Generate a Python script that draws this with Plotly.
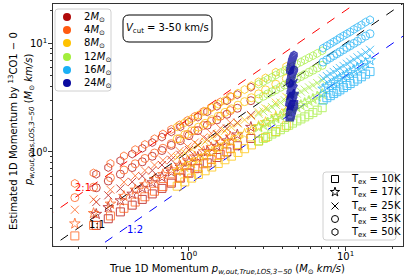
import numpy as np
import plotly.graph_objects as go

# ---------------- data ----------------
masses = ["2", "4", "8", "12", "16", "24"]
tex_labels = ["10K", "17K", "25K", "35K", "50K"]

# 2 Msun
x_m2 = [0.26, 0.31, 0.37, 0.44, 0.51, 0.59, 0.68, 0.78, 0.89, 1.01, 1.15, 1.32, 1.52, 1.76, 2.05, 2.5]
y_m2_10K = [0.211, 0.243, 0.281, 0.324, 0.366, 0.411, 0.462, 0.516, 0.574, 0.637, 0.708, 0.793, 0.889, 1.00, 1.14, 1.33]
y_m2_17K = [0.268, 0.309, 0.357, 0.411, 0.465, 0.523, 0.587, 0.656, 0.729, 0.809, 0.899, 1.01, 1.13, 1.27, 1.44, 1.69]
y_m2_25K = [0.346, 0.399, 0.461, 0.531, 0.600, 0.675, 0.759, 0.847, 0.942, 1.04, 1.16, 1.30, 1.46, 1.64, 1.86, 2.19]
y_m2_35K = [0.468, 0.540, 0.624, 0.718, 0.811, 0.912, 1.03, 1.15, 1.27, 1.41, 1.57, 1.76, 1.97, 2.22, 2.52, 2.96]
y_m2_50K = [0.624, 0.719, 0.832, 0.957, 1.08, 1.22, 1.37, 1.53, 1.70, 1.88, 2.09, 2.34, 2.63, 2.96, 3.36, 3.94]

# 4 Msun
x_m4 = [0.19, 0.25, 0.32, 0.39, 0.46, 0.53, 0.61, 0.69, 0.78, 0.88, 0.99, 1.1, 1.25, 1.4, 1.6, 1.85]
y_m4_10K = [0.169, 0.211, 0.258, 0.303, 0.346, 0.387, 0.435, 0.481, 0.531, 0.585, 0.644, 0.700, 0.778, 0.851, 0.948, 1.07]
y_m4_17K = [0.219, 0.273, 0.333, 0.392, 0.448, 0.501, 0.562, 0.622, 0.687, 0.757, 0.834, 0.906, 1.01, 1.10, 1.23, 1.38]
y_m4_25K = [0.294, 0.367, 0.449, 0.527, 0.603, 0.675, 0.757, 0.838, 0.925, 1.02, 1.12, 1.22, 1.36, 1.48, 1.65, 1.86]
y_m4_35K = [0.380, 0.474, 0.579, 0.681, 0.778, 0.871, 0.977, 1.08, 1.19, 1.32, 1.45, 1.57, 1.75, 1.91, 2.13, 2.40]
y_m4_50K = [0.513, 0.640, 0.782, 0.918, 1.05, 1.17, 1.32, 1.46, 1.61, 1.77, 1.95, 2.12, 2.36, 2.58, 2.88, 3.24]

# 8 Msun
x_m8 = [0.85, 0.95, 1.05, 1.16, 1.28, 1.41, 1.55, 1.71, 1.88, 2.07, 2.28, 2.52, 2.8, 3.1, 3.6, 4.2]
y_m8_10K = [0.484, 0.530, 0.574, 0.621, 0.671, 0.726, 0.783, 0.847, 0.914, 0.989, 1.07, 1.16, 1.26, 1.36, 1.54, 1.74]
y_m8_17K = [0.664, 0.726, 0.787, 0.851, 0.920, 0.995, 1.07, 1.16, 1.25, 1.36, 1.46, 1.58, 1.72, 1.87, 2.11, 2.38]
y_m8_25K = [0.893, 0.977, 1.06, 1.15, 1.24, 1.34, 1.45, 1.56, 1.69, 1.82, 1.97, 2.13, 2.32, 2.52, 2.84, 3.21]
y_m8_35K = [1.32, 1.44, 1.56, 1.69, 1.83, 1.98, 2.13, 2.31, 2.49, 2.69, 2.90, 3.15, 3.42, 3.72, 4.19, 4.73]
y_m8_50K = [1.70, 1.86, 2.01, 2.18, 2.36, 2.55, 2.75, 2.97, 3.21, 3.47, 3.74, 4.06, 4.41, 4.79, 5.40, 6.10]

# 12 Msun
x_m12 = [2.8, 3.0, 3.2, 3.4, 3.6, 3.85, 4.1, 4.35, 4.6, 4.9, 5.2, 5.5, 5.85, 6.2, 6.6, 7.1]
y_m12_10K = [1.26, 1.33, 1.39, 1.46, 1.52, 1.60, 1.68, 1.76, 1.84, 1.93, 2.01, 2.10, 2.20, 2.30, 2.42, 2.55]
y_m12_17K = [1.68, 1.77, 1.86, 1.95, 2.03, 2.14, 2.24, 2.34, 2.45, 2.57, 2.69, 2.81, 2.94, 3.07, 3.22, 3.40]
y_m12_25K = [2.24, 2.36, 2.48, 2.59, 2.71, 2.85, 2.99, 3.13, 3.27, 3.43, 3.58, 3.74, 3.92, 4.09, 4.30, 4.54]
y_m12_35K = [3.08, 3.25, 3.41, 3.57, 3.73, 3.93, 4.12, 4.31, 4.50, 4.72, 4.93, 5.15, 5.40, 5.64, 5.92, 6.25]
y_m12_50K = [4.20, 4.43, 4.65, 4.86, 5.08, 5.35, 5.61, 5.86, 6.12, 6.43, 6.71, 7.01, 7.35, 7.67, 8.05, 8.51]

# 16 Msun
x_m16 = [7.2, 7.6, 8.0, 8.4, 8.8, 9.2, 9.7, 10.2, 10.7, 11.3, 11.9, 12.6, 13.4, 14.3]
y_m16_10K = [3.00, 3.15, 3.29, 3.44, 3.58, 3.72, 3.90, 4.08, 4.25, 4.46, 4.68, 4.91, 5.19, 5.48]
y_m16_17K = [3.80, 3.99, 4.17, 4.36, 4.54, 4.72, 4.94, 5.18, 5.38, 5.65, 5.93, 6.22, 6.58, 6.95]
y_m16_25K = [4.75, 4.99, 5.21, 5.44, 5.68, 5.90, 6.18, 6.47, 6.73, 7.06, 7.41, 7.78, 8.22, 8.69]
y_m16_35K = [6.70, 7.03, 7.35, 7.67, 8.00, 8.32, 8.71, 9.12, 9.48, 9.95, 10.4, 11.0, 11.6, 12.2]
y_m16_50K = [9.00, 9.44, 9.86, 10.3, 10.7, 11.2, 11.7, 12.2, 12.7, 13.4, 14.0, 14.7, 15.6, 16.4]

# 24 Msun (a tight, nearly vertical column)
x_m24 = [4.42, 4.44, 4.46, 4.48, 4.50, 4.52, 4.54, 4.56, 4.59, 4.62, 4.66, 4.70]
y_m24_10K = [2.08, 2.14, 2.20, 2.26, 2.32, 2.38, 2.44, 2.50, 2.56, 2.62, 2.68, 2.74]
y_m24_17K = [2.62, 2.69, 2.76, 2.83, 2.90, 2.97, 3.04, 3.11, 3.18, 3.25, 3.32, 3.40]
y_m24_25K = [3.25, 3.35, 3.45, 3.55, 3.65, 3.75, 3.85, 3.95, 4.05, 4.15, 4.25, 4.35]
y_m24_35K = [4.25, 4.38, 4.51, 4.64, 4.77, 4.90, 5.03, 5.16, 5.29, 5.42, 5.55, 5.70]
y_m24_50K = [5.55, 5.75, 5.95, 6.15, 6.35, 6.55, 6.75, 6.95, 7.15, 7.35, 7.55, 7.80]

# reference-line span
line_x = [0.1, 30.0]
ratio_lines = [2.0, 1.0, 0.5]
ratio_text = ["2:1", "1:1", "1:2"]

# axis ticks
major_ticks = [1, 10]
major_tick_text = ["10<sup>0</sup>", "10<sup>1</sup>"]
minor_ticks = [0.2, 0.3, 0.4, 0.5, 0.6, 0.7, 0.8, 0.9, 2, 3, 4, 5, 6, 7, 8, 9, 20]

# ---------------- styling ----------------
colors = ["#b00a0a", "#ff5a10", "#ffc200", "#a3ee3c", "#1ab0f5", "#0a0aa0"]
symbols = ["square-open", "star-open", "x-thin-open", "circle-open", "hexagon-open"]
line_colors = ["red", "black", "blue"]
FONT = "DejaVu Sans"

# plot-area pixel frame (used for the overlay axes holding legends / boxes)
PL, PR, PT, PB = 53, 403, 4, 246
W, H = 407, 279

def paper_x(px):
    return (px - PL) / (PR - PL)

def paper_y(py):
    return (PB - py) / (PB - PT)

xs = [x_m2, x_m4, x_m8, x_m12, x_m16, x_m24]
ys = [
    [y_m2_10K, y_m2_17K, y_m2_25K, y_m2_35K, y_m2_50K],
    [y_m4_10K, y_m4_17K, y_m4_25K, y_m4_35K, y_m4_50K],
    [y_m8_10K, y_m8_17K, y_m8_25K, y_m8_35K, y_m8_50K],
    [y_m12_10K, y_m12_17K, y_m12_25K, y_m12_35K, y_m12_50K],
    [y_m16_10K, y_m16_17K, y_m16_25K, y_m16_35K, y_m16_50K],
    [y_m24_10K, y_m24_17K, y_m24_25K, y_m24_35K, y_m24_50K],
]

fig = go.Figure()

# reference lines
for r, lc in zip(ratio_lines, line_colors):
    fig.add_trace(go.Scatter(
        x=line_x, y=[v * r for v in line_x], mode="lines",
        line=dict(color=lc, width=1, dash="dash"), showlegend=False, hoverinfo="skip"))

# data points
for mi in range(len(masses)):
    lw = 1.5 if masses[mi] == "24" else 1
    sz = 7 if masses[mi] == "24" else 8
    for ti in range(len(tex_labels)):
        fig.add_trace(go.Scatter(
            x=xs[mi], y=ys[mi][ti], mode="markers",
            marker=dict(symbol=symbols[ti], size=sz, color=colors[mi],
                        line=dict(width=lw, color=colors[mi])),
            opacity=0.75, showlegend=False))

# ---------------- custom legends (overlay pixel axes) ----------------
def rounded_rect(x0, y0, x1, y1, r):
    return (f"M {x0+r},{y0} L {x1-r},{y0} Q {x1},{y0} {x1},{y0+r} "
            f"L {x1},{y1-r} Q {x1},{y1} {x1-r},{y1} L {x0+r},{y1} "
            f"Q {x0},{y1} {x0},{y1-r} L {x0},{y0+r} Q {x0},{y0} {x0+r},{y0} Z")

def label(x, y, text, ref, **kw):
    font = kw.pop("font", dict(size=10, family=FONT, color="black"))
    fig.add_annotation(x=x, y=y, xref=ref[0], yref=ref[1], text=text, showarrow=False,
                       xanchor=kw.pop("xanchor", "center"), yanchor=kw.pop("yanchor", "middle"),
                       font=font, **kw)

# legend 1 (masses)
leg1_box = (55, 9, 111, 91)
leg1_rows = [17, 30, 43, 57, 70, 83]
fig.add_shape(type="path", path=rounded_rect(*leg1_box, 3), xref="x2", yref="y2",
              line=dict(color="#d0d0d0", width=1), fillcolor="white", layer="below")
fig.add_trace(go.Scatter(
    x=[67] * len(masses), y=leg1_rows, mode="markers", xaxis="x2", yaxis="y2",
    marker=dict(symbol="circle", size=8, color=colors), showlegend=False, hoverinfo="skip"))
for m, ry in zip(masses, leg1_rows):
    label(82, ry, f"{m}<i>M</i><sub>⊙</sub>", ("x2", "y2"), xanchor="left")

# legend 2 (Tex)
leg2_box = (323, 172, 396, 240)
leg2_rows = [179, 192, 206, 219, 232]
fig.add_shape(type="path", path=rounded_rect(*leg2_box, 3), xref="x2", yref="y2",
              line=dict(color="#d0d0d0", width=1), fillcolor="white", layer="below")
for ti, ry in enumerate(leg2_rows):
    fig.add_trace(go.Scatter(
        x=[335], y=[ry], mode="markers", xaxis="x2", yaxis="y2",
        marker=dict(symbol=symbols[ti], size=7, color="black", line=dict(width=1, color="black")),
        showlegend=False, hoverinfo="skip"))
    label(349, ry, f"T<sub>ex</sub> = {tex_labels[ti]}", ("x2", "y2"), xanchor="left")

# V_cut box
fig.add_shape(type="path", path=rounded_rect(123, 15, 212, 42, 6), xref="x2", yref="y2",
              line=dict(color="black", width=1), fillcolor="white", layer="below")
label(167.5, 28.5, "<i>V</i><sub>cut</sub> = 3-50 km/s", ("x2", "y2"))

# ratio labels
ratio_pos = [(0.214, 0.467), (0.263, 0.214), (0.459, 0.192)]
for txt, (px, py), lc in zip(ratio_text, ratio_pos, line_colors):
    label(np.log10(px), np.log10(py), txt, ("x", "y"), font=dict(color=lc, size=10, family=FONT))

# tick labels (placed explicitly to match matplotlib spacing)
for v, t in zip(major_ticks, major_tick_text):
    label(np.log10(v), paper_y(256), t, ("x", "paper"))
    label(paper_x(49), np.log10(v), t, ("paper", "y"), xanchor="right")

# axis titles
label(paper_x(227), paper_y(269),
      "True 1D Momentum <i>p</i><sub><i>w,out,True,LOS,3−50</i></sub> (<i>M</i><sub>⊙</sub> <i>km/s</i>)",
      ("paper", "paper"))
label(paper_x(13), paper_y(131), "Estimated 1D Momentum by <sup>13</sup>CO1 − 0",
      ("paper", "paper"), textangle=-90)
label(paper_x(30), paper_y(120),
      "<i>p</i><sub><i>w,out,Obs,LOS,3−50</i></sub> (<i>M</i><sub>⊙</sub> <i>km/s</i>)",
      ("paper", "paper"), textangle=-90)

axis_common = dict(
    type="log", showgrid=False, zeroline=False, automargin=False,
    showline=True, linecolor="#333", linewidth=1, mirror=True,
    ticks="outside", ticklen=4, tickcolor="#333",
    tickmode="array", tickvals=major_ticks, showticklabels=False,
    minor=dict(ticks="outside", ticklen=2, tickcolor="#333", tickmode="array",
               tickvals=minor_ticks, showgrid=False),
)

fig.update_layout(
    width=W, height=H,
    margin=dict(l=PL, r=W - PR, t=PT, b=H - PB),
    paper_bgcolor="white", plot_bgcolor="white",
    font=dict(family=FONT, size=10, color="black"),
    showlegend=False,
    xaxis=dict(axis_common, range=[-0.86, 1.365]),
    yaxis=dict(axis_common, range=[-0.865, 1.36]),
    xaxis2=dict(overlaying="x", anchor="y2", range=[PL, PR], visible=False, fixedrange=True),
    yaxis2=dict(overlaying="y", anchor="x2", range=[PB, PT], visible=False, fixedrange=True),
)

fig.write_html("out.html", config={"displayModeBar": False},
               post_script="document.body.style.margin='0';document.body.style.padding='0';")
